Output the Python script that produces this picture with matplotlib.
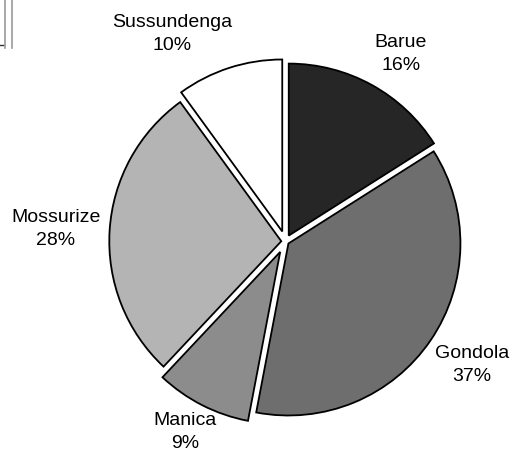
"""
Pie chart of shares by district (grayscale, separated slices).

Output:
    out.png
"""

import numpy as np
import matplotlib.pyplot as plt
from matplotlib.lines import Line2D

districts = ["Barue", "Gondola", "Manica", "Mossurize", "Sussundenga"]
shares = [16, 37, 9, 28, 10]
colors = ["#262626", "#6e6e6e", "#8c8c8c", "#b4b4b4", "#ffffff"]

W, H = 512, 453
CX, CY, R = 285.5, 241.5, 172  # pie centre and radius in pixels
GAP = 6.5 / R                   # white gap between slices, in radius units

# label centres, pixels from the top-left of the image
label_px = [(401, 54), (472, 365), (185, 432), (56, 229), (172, 34)]


def main():
    fig = plt.figure(figsize=(W / 100, H / 100), dpi=100)
    ax = fig.add_axes([0, 0, 1, 1])

    # explode each slice so the gaps between neighbours have constant width
    fracs = np.array(shares) / sum(shares)
    explode = [GAP / (2 * np.sin(np.pi * f)) for f in fracs]

    wedges, _ = ax.pie(shares, colors=colors, explode=explode, startangle=90,
                       counterclock=False, radius=1.0, center=(0, 0),
                       wedgeprops=dict(edgecolor="black", linewidth=1.3))
    ax.set_xlim(-CX / R, (W - CX) / R)
    ax.set_ylim(-(H - CY) / R, CY / R)
    ax.set_aspect("equal")
    ax.axis("off")

    # labels outside each slice
    for name, pct, (px, py) in zip(districts, shares, label_px):
        ax.text((px - CX) / R, (CY - py) / R, f"{name}\n{pct}%",
                ha="center", va="center", fontsize=14,
                family="Liberation Sans", linespacing=1.45)

    # bits of a neighbouring frame at the top-left edge of the scan
    for x in (4.5, 11.5):
        fig.add_artist(Line2D([x / W, x / W], [1, 1 - 48 / H],
                              color="#9a9a9a", linewidth=1.2))
    fig.add_artist(Line2D([0, 3 / W], [1 - 45 / H, 1 - 45 / H],
                          color="#333333", linewidth=1.0))

    fig.savefig("out.png", dpi=100)


if __name__ == "__main__":
    main()
